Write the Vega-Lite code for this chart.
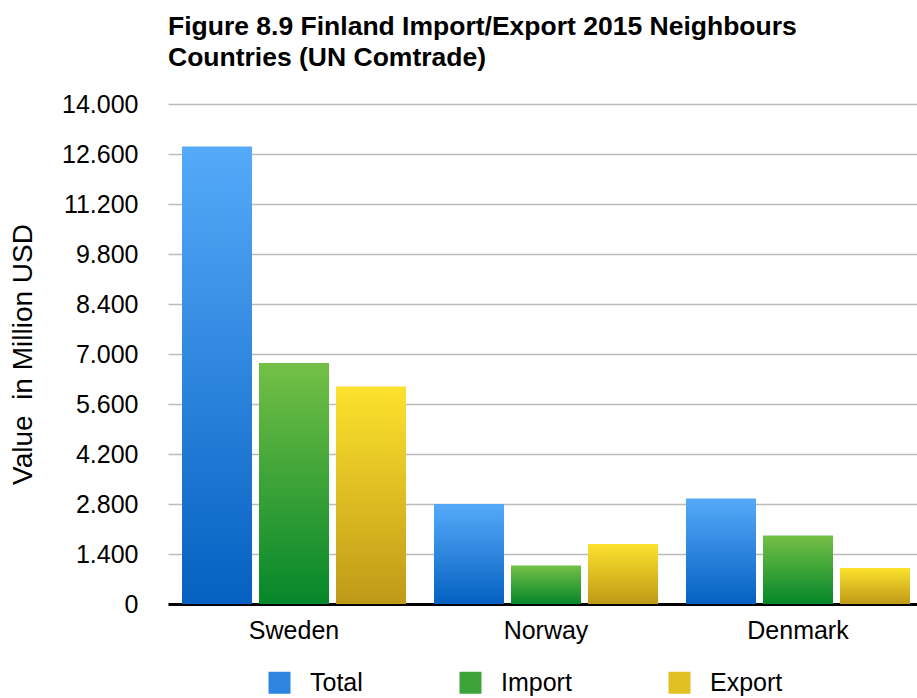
{
  "$schema": "https://vega.github.io/schema/vega-lite/v6.json",
  "width": 749,
  "height": 500,
  "autosize": {"type": "none"},
  "padding": {"left": 168, "top": 104, "right": 0, "bottom": 94},
  "background": "white",
  "config": {
    "locale": {"number": {"decimal": ",", "thousands": ".", "grouping": [3], "currency": ["", ""]}},
    "view": {"stroke": null},
    "font": "Liberation Sans"
  },
  "title": {
    "text": ["Figure 8.9 Finland Import/Export 2015 Neighbours", "Countries (UN Comtrade)"],
    "anchor": "start",
    "frame": "group",
    "fontSize": 26.5,
    "fontWeight": "bold",
    "lineHeight": 31,
    "offset": 21,
    "color": "black"
  },
  "data": {
    "values": [
      {"country": "Sweden", "type": "Total", "value": 12800},
      {"country": "Sweden", "type": "Import", "value": 6750},
      {"country": "Sweden", "type": "Export", "value": 6080},
      {"country": "Norway", "type": "Total", "value": 2790},
      {"country": "Norway", "type": "Import", "value": 1070},
      {"country": "Norway", "type": "Export", "value": 1680},
      {"country": "Denmark", "type": "Total", "value": 2950},
      {"country": "Denmark", "type": "Import", "value": 1910},
      {"country": "Denmark", "type": "Export", "value": 1010}
    ]
  },
  "encoding": {
    "x": {
      "field": "country",
      "type": "nominal",
      "sort": ["Sweden", "Norway", "Denmark"],
      "scale": {"range": [0, 756], "paddingInner": 0.111, "paddingOuter": 0.0556},
      "axis": {
        "title": null,
        "labelAngle": 0,
        "labelFontSize": 25,
        "labelColor": "black",
        "ticks": false,
        "domainColor": "black",
        "domainWidth": 3,
        "labelPadding": 14
      }
    },
    "xOffset": {
      "field": "type",
      "type": "nominal",
      "sort": ["Total", "Import", "Export"],
      "scale": {"paddingInner": 0.091}
    },
    "y": {
      "field": "value",
      "type": "quantitative",
      "scale": {"domain": [0, 14000]},
      "axis": {
        "values": [0, 1400, 2800, 4200, 5600, 7000, 8400, 9800, 11200, 12600, 14000],
        "format": ",d",
        "title": "Value\u00a0 in Million USD",
        "titleFontSize": 28,
        "titleFontWeight": "normal",
        "titleColor": "black",
        "titlePadding": 24,
        "labelFontSize": 25,
        "labelColor": "black",
        "labelPadding": 30,
        "domain": false,
        "ticks": false,
        "gridColor": "#bcbcbc",
        "gridWidth": 1.5
      }
    }
  },
  "layer": [
    {
      "mark": {"type": "bar"},
      "encoding": {
        "color": {
          "field": "type",
          "type": "nominal",
          "sort": ["Total", "Import", "Export"],
          "scale": {
            "domain": ["Total", "Import", "Export"],
            "range": ["#2e85e0", "#3ca33a", "#e0c023"]
          },
          "legend": {
            "title": null,
            "orient": "none",
            "legendX": 99,
            "legendY": 566,
            "direction": "horizontal",
            "symbolType": "square",
            "symbolSize": 484,
            "symbolStrokeWidth": 0,
            "symbolOpacity": 1,
            "labelFontSize": 25,
            "labelColor": "black",
            "labelOffset": 18,
            "columnPadding": 95,
            "padding": 0
          }
        }
      }
    },
    {
      "mark": {"type": "bar"},
      "encoding": {
        "fill": {
          "condition": [
            {"test": "datum.type === 'Total'", "value": {"gradient": "linear", "x1": 0, "y1": 0, "x2": 0, "y2": 1, "stops": [{"offset": 0, "color": "#55aaf9"}, {"offset": 1, "color": "#0560c1"}]}},
            {"test": "datum.type === 'Import'", "value": {"gradient": "linear", "x1": 0, "y1": 0, "x2": 0, "y2": 1, "stops": [{"offset": 0, "color": "#74c046"}, {"offset": 1, "color": "#05862a"}]}}
          ],
          "value": {"gradient": "linear", "x1": 0, "y1": 0, "x2": 0, "y2": 1, "stops": [{"offset": 0, "color": "#fce22d"}, {"offset": 1, "color": "#c09918"}]}
        }
      }
    }
  ]
}
